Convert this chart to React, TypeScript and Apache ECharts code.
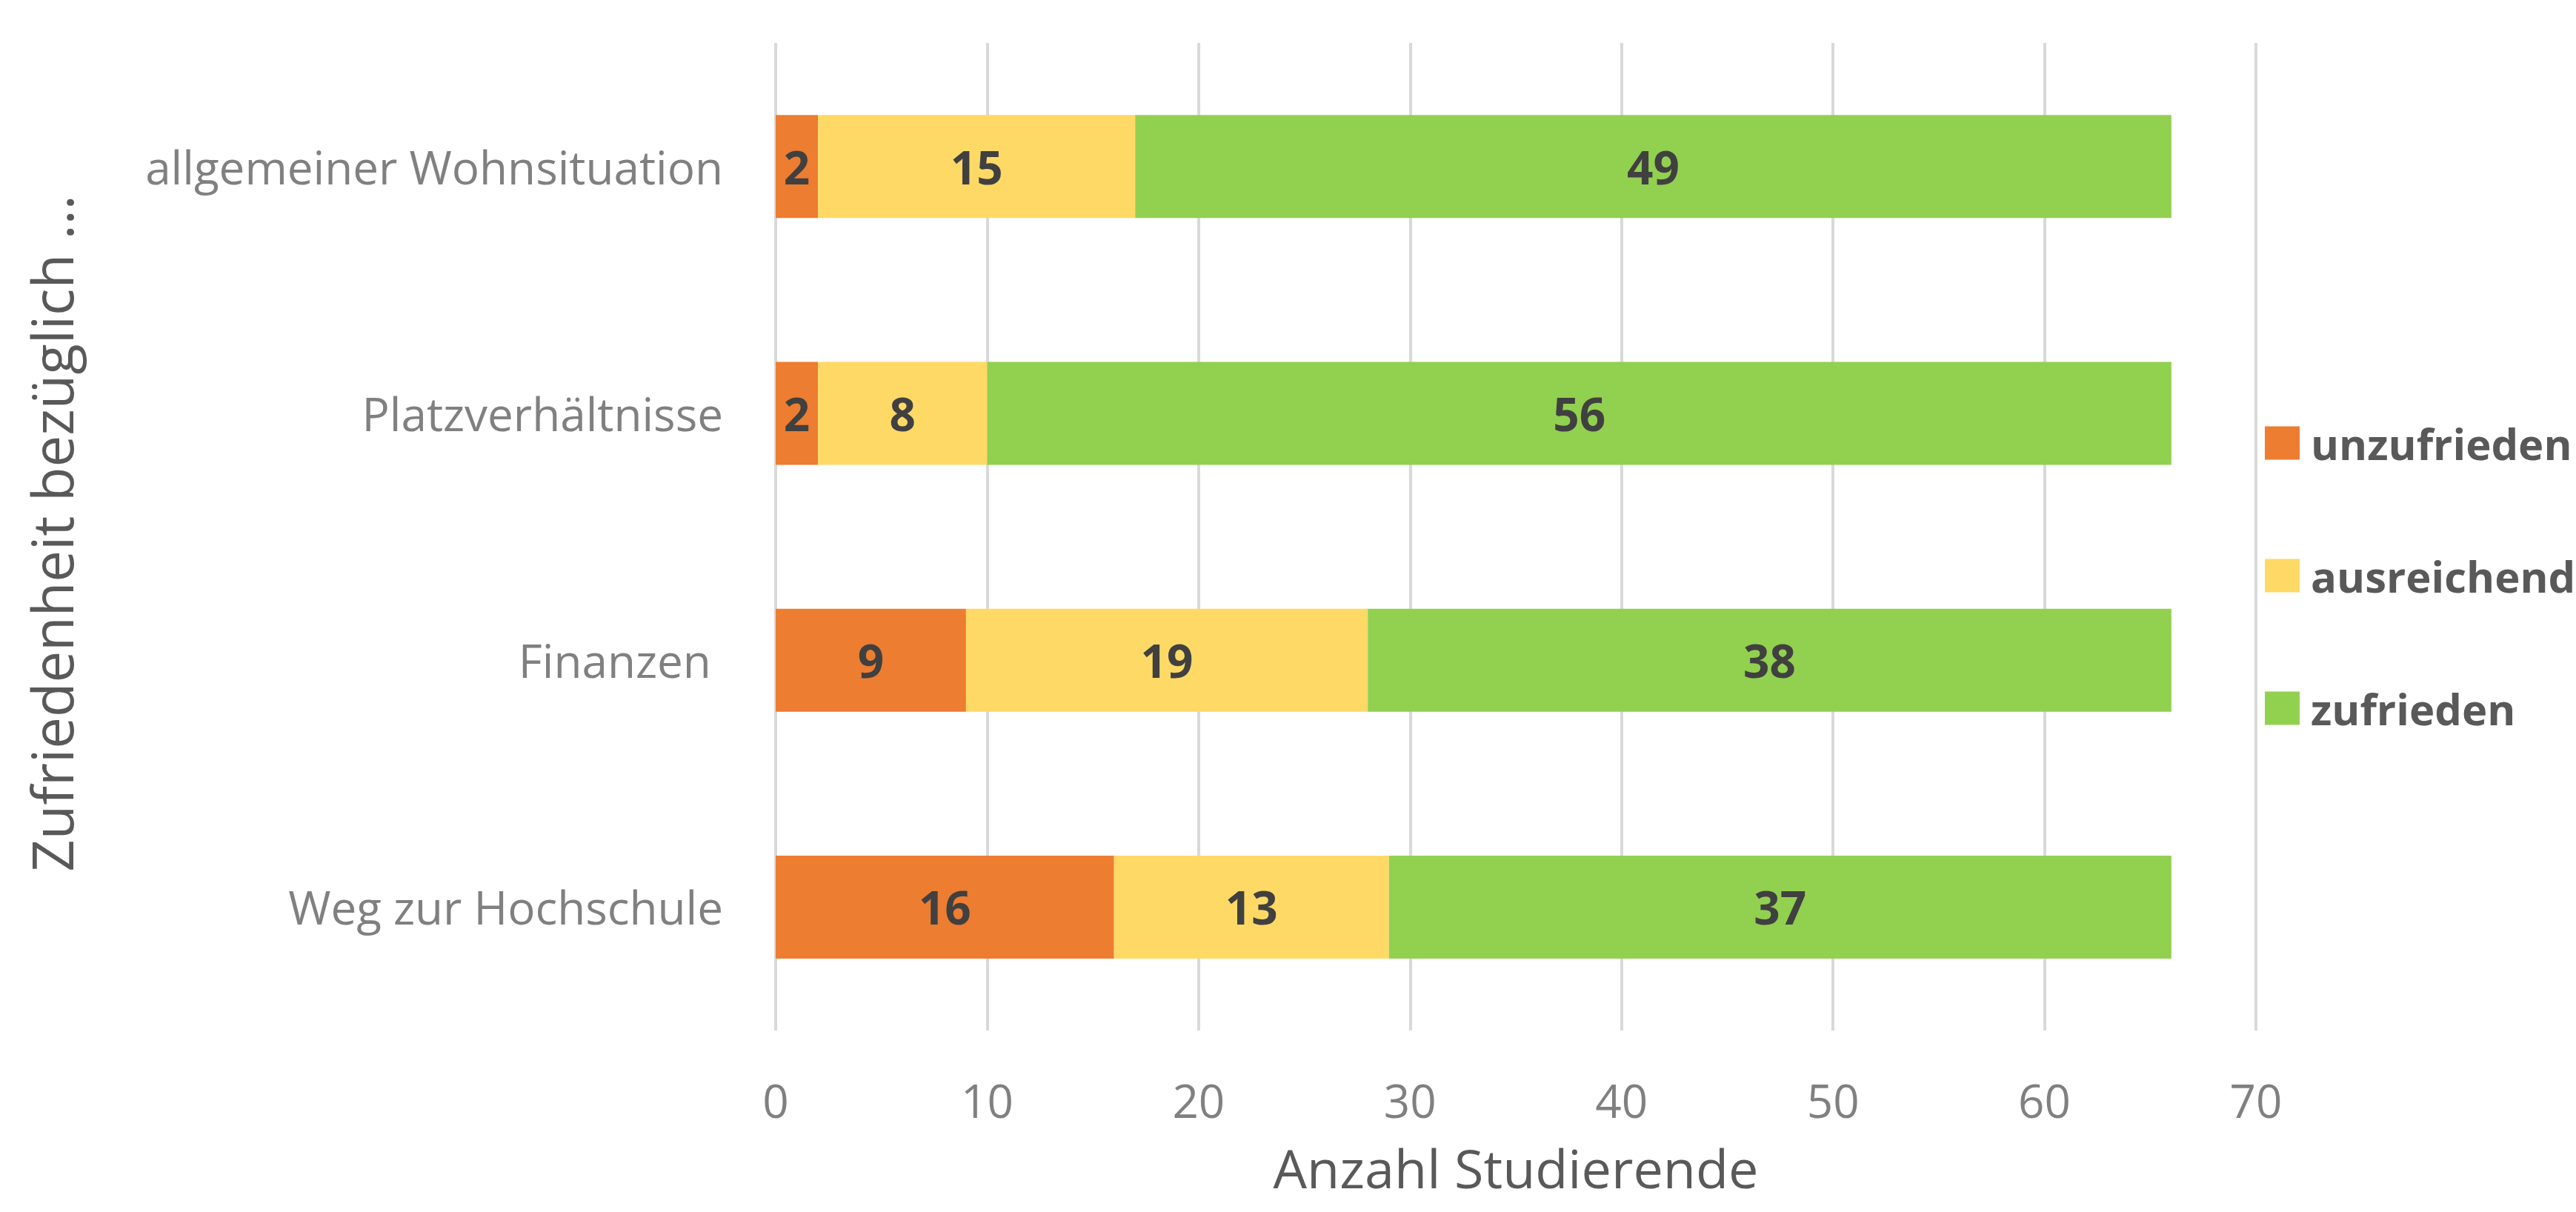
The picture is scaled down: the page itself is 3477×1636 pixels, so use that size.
import React, { useEffect, useRef } from "react";
import * as echarts from "echarts";

const categories = ["Weg zur Hochschule", "Finanzen ", "Platzverhältnisse", "allgemeiner Wohnsituation"];
const seriesNames = ["unzufrieden", "ausreichend", "zufrieden"];
const unzufrieden = [16, 9, 2, 2];
const ausreichend = [13, 19, 8, 15];
const zufrieden = [37, 38, 56, 49];
const colors = ["#ED7D31", "#FFD966", "#92D050"];
const xTicks = { min: 0, max: 70, interval: 10 };

const FONT = "'Open Sans', sans-serif";

export default function App() {
  const ref = useRef<HTMLDivElement>(null);
  useEffect(() => {
    if (!ref.current) return;
    const chart = echarts.init(ref.current, null, { renderer: "svg" });
    const values = [unzufrieden, ausreichend, zufrieden];
    chart.setOption({
      animation: false,
      backgroundColor: "#ffffff",
      grid: { left: 1047, right: 3477 - 3045, top: 58, bottom: 1636 - 1391, containLabel: false },
      legend: {
        orient: "vertical",
        left: 3052,
        top: 564,
        itemWidth: 47,
        itemHeight: 45,
        itemGap: 121,
        icon: "rect",
        data: seriesNames,
        textStyle: {
          fontFamily: FONT,
          fontSize: 58,
          fontWeight: "bold",
          color: "#595959",
          lineHeight: 45,
          padding: [0, 0, 0, 10],
        },
      },
      xAxis: {
        type: "value",
        min: xTicks.min,
        max: xTicks.max,
        interval: xTicks.interval,
        name: "Anzahl Studierende",
        nameLocation: "middle",
        nameGap: 155,
        nameTextStyle: { fontFamily: FONT, fontSize: 72, color: "#595959", lineHeight: 60 },
        axisLine: { show: false },
        axisTick: { show: false },
        axisLabel: { fontFamily: FONT, fontSize: 62, color: "#808080", margin: 63 },
        splitLine: { show: true, lineStyle: { color: "#D9D9D9", width: 4 } },
      },
      yAxis: {
        type: "category",
        data: categories,
        axisLine: { show: false },
        axisTick: { show: false },
        axisLabel: { fontFamily: FONT, fontSize: 62, color: "#808080", margin: 71 },
        splitLine: { show: false },
      },
      graphic: [
        {
          type: "text",
          x: 69,
          y: 720,
          rotation: Math.PI / 2,
          style: {
            text: "Zufriedenheit bezüglich ...",
            fontFamily: FONT,
            fontSize: 76,
            fill: "#595959",
            align: "center",
            verticalAlign: "middle",
          },
        },
      ],
      series: seriesNames.map((name, i) => ({
        name,
        type: "bar",
        stack: "total",
        barWidth: 139,
        data: values[i],
        itemStyle: { color: colors[i] },
        label: {
          show: true,
          position: "inside",
          formatter: "{c}",
          fontFamily: FONT,
          fontSize: 62,
          fontWeight: "bold",
          color: "#404040",
        },
      })),
    });
    return () => chart.dispose();
  }, []);
  return (
    <div
      ref={ref}
      style={{ position: "absolute", left: 0, top: 0, width: 3477, height: 1636 }}
    />
  );
}
